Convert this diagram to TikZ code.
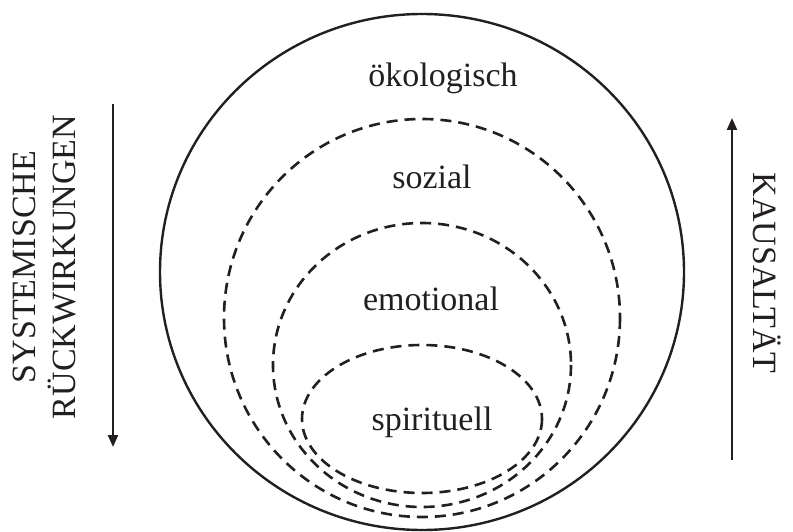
\documentclass[tikz,border=0pt]{standalone}
\usepackage{fontspec}
\setmainfont{Liberation Serif}
\usetikzlibrary{arrows.meta}
\definecolor{ink}{HTML}{231F20}
\tikzset{
  ring/.style={draw=ink, line width=2.4pt},
  dashring/.style={draw=ink, line width=2.6pt, dash pattern=on 11pt off 7pt},
  lbl/.style={text=ink, font=\fontsize{34}{40}\selectfont, inner sep=0pt, anchor=base},
  arr/.style={draw=ink, line width=2.3pt, -{Triangle[length=12pt,width=10pt]}}
}
\begin{document}
\begin{tikzpicture}[x=1pt,y=-1pt]
\useasboundingbox (0,0) rectangle (793,532);
\draw[ring] (422,272) ellipse [x radius=262, y radius=258];
\draw[dashring] (422,318) ellipse [x radius=198, y radius=199];
\draw[dashring] (422,365) ellipse [x radius=149, y radius=142];
\draw[dashring] (422,419) ellipse [x radius=120, y radius=74];
\node[lbl] (oek) at (443,87) {ökologisch};
\node[lbl] (soz) at (432,189) {sozial};
\node[lbl] (emo) at (431,310) {emotional};
\node[lbl] (spi) at (432,430) {spirituell};
\node[lbl, rotate=90] (sys) at (35,267) {SYSTEMISCHE};
\node[lbl, rotate=90] (rue) at (75,267) {RÜCKWIRKUNGEN};
\node[lbl, rotate=-90] (kau) at (753,273) {KAUSALTÄT};
\coordinate (la1) at (113,104);
\coordinate (la2) at (113,447);
\coordinate (ra1) at (732,460);
\coordinate (ra2) at (732,118);
\draw[arr] (la1) -- (la2);
\draw[arr] (ra1) -- (ra2);
\end{tikzpicture}
\end{document}
